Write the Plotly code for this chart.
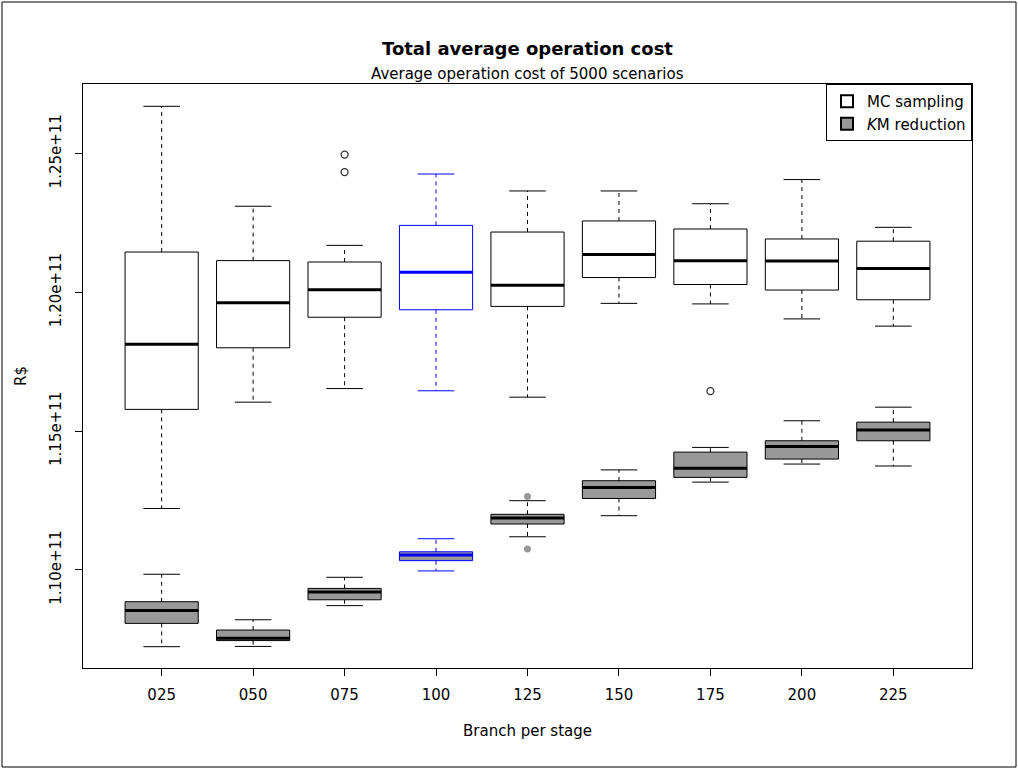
import plotly.graph_objects as go

# Branches per stage (x categories)
categories = ["025", "050", "075", "100", "125", "150", "175", "200", "225"]
highlight = "100"

# Five-number summaries, in billions of R$
mc_lower = [112.21, 116.04, 116.53, 116.45, 116.22, 119.60, 119.58, 119.04, 118.78]
mc_q1 = [115.78, 118.00, 119.10, 119.37, 119.49, 120.53, 120.28, 120.08, 119.73]
mc_median = [118.13, 119.62, 120.09, 120.72, 120.25, 121.36, 121.14, 121.13, 120.86]
mc_q3 = [121.45, 121.14, 121.09, 122.41, 122.17, 122.57, 122.28, 121.92, 121.84]
mc_upper = [126.70, 123.10, 121.69, 124.26, 123.65, 123.65, 123.19, 124.06, 122.34]
mc_outliers = {"075": [124.96, 124.33], "175": [116.44]}

km_lower = [107.23, 107.24, 108.71, 109.96, 111.19, 111.95, 113.16, 113.81, 113.74]
km_q1 = [108.07, 107.45, 108.92, 110.33, 111.65, 112.57, 113.33, 113.99, 114.65]
km_median = [108.53, 107.53, 109.20, 110.53, 111.87, 112.97, 113.66, 114.44, 115.04]
km_q3 = [108.85, 107.83, 109.33, 110.65, 112.00, 113.21, 114.24, 114.65, 115.32]
km_upper = [109.84, 108.20, 109.73, 111.12, 112.49, 113.60, 114.41, 115.37, 115.86]
km_outliers = {"125": [112.64, 110.75]}

ytick_vals = [1.10e11, 1.15e11, 1.20e11, 1.25e11]
ytick_text = ["1.10e+11", "1.15e+11", "1.20e+11", "1.25e+11"]

UNIT = 1e9
BOX_W = 0.8
STAPLE_W = 0.4
FONT = "DejaVu Sans"
GRAY = "#999999"

fig = go.Figure()


def add_series(lower, q1, med, q3, upper, outliers, fill, out_marker):
    for i, cat in enumerate(categories):
        x = i + 1
        col = "blue" if cat == highlight else "black"
        # box body (whiskers drawn separately so they can be dashed)
        fig.add_trace(go.Box(
            x=[x], q1=[q1[i] * UNIT], median=[med[i] * UNIT], q3=[q3[i] * UNIT],
            lowerfence=[q1[i] * UNIT], upperfence=[q3[i] * UNIT],
            width=BOX_W, whiskerwidth=0, fillcolor=fill,
            line=dict(color=col, width=1), showlegend=False, hoverinfo="skip",
        ))
        # dashed whiskers
        fig.add_trace(go.Scatter(
            x=[x, x, None, x, x],
            y=[q3[i] * UNIT, upper[i] * UNIT, None, q1[i] * UNIT, lower[i] * UNIT],
            mode="lines", line=dict(color=col, width=1, dash="4px,4px"),
            showlegend=False, hoverinfo="skip",
        ))
        # staples
        h = STAPLE_W / 2
        fig.add_trace(go.Scatter(
            x=[x - h, x + h, None, x - h, x + h],
            y=[upper[i] * UNIT, upper[i] * UNIT, None, lower[i] * UNIT, lower[i] * UNIT],
            mode="lines", line=dict(color=col, width=1),
            showlegend=False, hoverinfo="skip",
        ))
        # thick median bar
        fig.add_trace(go.Scatter(
            x=[x - BOX_W / 2, x + BOX_W / 2], y=[med[i] * UNIT, med[i] * UNIT],
            mode="lines", line=dict(color=col, width=3),
            showlegend=False, hoverinfo="skip",
        ))
        if cat in outliers:
            pts = outliers[cat]
            fig.add_trace(go.Scatter(
                x=[x] * len(pts), y=[p * UNIT for p in pts], mode="markers",
                marker=out_marker, showlegend=False, hoverinfo="skip",
            ))


add_series(mc_lower, mc_q1, mc_median, mc_q3, mc_upper, mc_outliers, "white",
           dict(symbol="circle-open", size=7, color="#333333", line=dict(width=1.3)))
add_series(km_lower, km_q1, km_median, km_q3, km_upper, km_outliers, GRAY,
           dict(symbol="circle", size=7, color=GRAY))

# legend entries
fig.add_trace(go.Scatter(
    x=[None], y=[None], mode="markers", name="MC sampling",
    marker=dict(symbol="square", size=10, color="white", line=dict(color="black", width=1)),
))
fig.add_trace(go.Scatter(
    x=[None], y=[None], mode="markers", name="<i>K</i>M reduction",
    marker=dict(symbol="square", size=10, color=GRAY, line=dict(color="black", width=1)),
))

fig.update_layout(
    width=1018, height=770,
    margin=dict(l=83, r=46, t=84, b=102),
    paper_bgcolor="white", plot_bgcolor="white",
    font=dict(family=FONT, size=15, color="black"),
    boxmode="overlay",
    showlegend=True,
    legend=dict(
        x=1, y=1, xanchor="right", yanchor="top",
        bgcolor="white", bordercolor="black", borderwidth=1,
        font=dict(family=FONT, size=15, color="black"),
        tracegroupgap=0, itemsizing="constant",
    ),
    xaxis=dict(
        range=[0.14, 9.86], tickvals=list(range(1, len(categories) + 1)),
        ticktext=categories, ticks="outside", ticklen=7, tickcolor="black",
        showline=True, linecolor="black", linewidth=1, mirror=True,
        showgrid=False, zeroline=False, ticklabelstandoff=6,
    ),
    yaxis=dict(
        range=[1.06462e11, 1.27504e11], tickvals=ytick_vals, ticktext=ytick_text,
        tickangle=-90, ticks="outside", ticklen=7, tickcolor="black",
        showline=True, linecolor="black", linewidth=1, mirror=True,
        showgrid=False, zeroline=False, ticklabelstandoff=8,
    ),
    annotations=[
        dict(text="<b>Total average operation cost</b>", x=0.5, y=1, xref="paper", yref="paper",
             xanchor="center", yanchor="middle", yshift=36, showarrow=False,
             font=dict(family=FONT, size=18)),
        dict(text="Average operation cost of 5000 scenarios", x=0.5, y=1, xref="paper", yref="paper",
             xanchor="center", yanchor="middle", yshift=10, showarrow=False,
             font=dict(family=FONT, size=15)),
        dict(text="Branch per stage", x=0.5, y=0, xref="paper", yref="paper",
             xanchor="center", yanchor="middle", yshift=-63, showarrow=False,
             font=dict(family=FONT, size=15)),
        dict(text="R$", x=0, y=0.5, xref="paper", yref="paper", textangle=-90,
             xanchor="center", yanchor="middle", xshift=-62, showarrow=False,
             font=dict(family=FONT, size=15)),
    ],
    shapes=[
        # outer frame around the whole figure
        dict(type="rect", xref="paper", yref="paper",
             x0=(2 - 83) / 889, x1=(1016 - 83) / 889,
             y0=(668 - 767) / 584, y1=(668 - 2) / 584,
             line=dict(color="black", width=1), fillcolor="rgba(0,0,0,0)", layer="below"),
    ],
)

fig.write_html("out.html")
